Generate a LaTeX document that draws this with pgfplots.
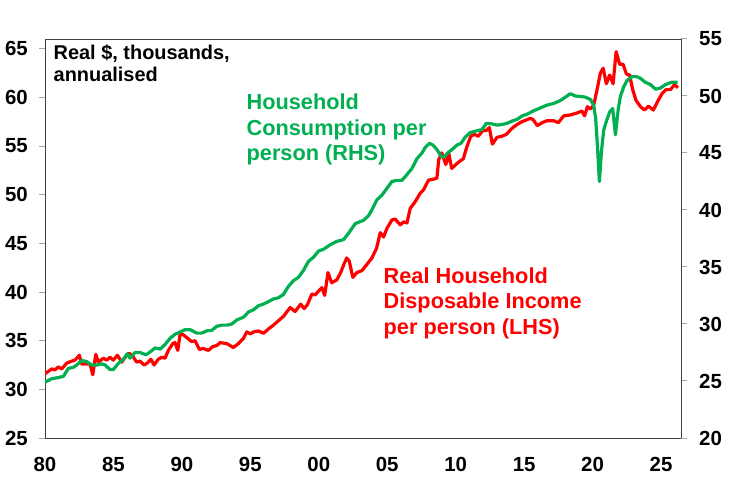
\documentclass[border=0pt]{standalone}
\usepackage{pgfplots}
\pgfplotsset{compat=1.18}
\usepackage{pgfplotstable}
\usepackage{fontspec}
\setmainfont{Liberation Sans}
\definecolor{cgreen}{RGB}{0,176,80}
\definecolor{cred}{RGB}{255,0,0}
\definecolor{axgray}{RGB}{64,64,64}
\definecolor{tickgray}{RGB}{166,166,166}

\pgfplotstableread{
x y
1980.00 31.6
1980.49 32.1
1980.73 32.0
1980.97 32.3
1981.22 32.1
1981.59 32.7
1981.95 32.9
1982.19 33.0
1982.51 33.5
1982.68 32.6
1983.05 32.6
1983.29 32.6
1983.49 31.5
1983.71 33.6
1983.90 32.8
1984.26 33.2
1984.51 33.0
1984.75 33.3
1984.99 33.0
1985.29 33.5
1985.61 32.8
1985.85 33.3
1986.16 33.7
1986.41 33.4
1986.70 32.8
1986.94 32.9
1987.24 32.5
1987.48 32.7
1987.73 33.1
1987.97 32.5
1988.28 33.1
1988.53 33.3
1988.77 33.2
1989.01 34.0
1989.33 34.7
1989.50 34.8
1989.70 34.0
1989.87 35.7
1990.11 35.6
1990.36 35.3
1990.72 34.9
1990.96 35.0
1991.28 34.1
1991.57 34.2
1991.94 34.0
1992.26 34.4
1992.55 34.5
1992.79 34.8
1993.28 34.7
1993.76 34.3
1994.13 34.7
1994.50 35.25
1994.74 35.9
1994.99 35.7
1995.23 35.9
1995.59 36.0
1995.96 35.76
1996.32 36.2
1996.69 36.6
1997.05 37.05
1997.42 37.5
1997.91 38.4
1998.27 38.0
1998.68 38.75
1998.93 38.3
1999.17 38.7
1999.50 39.8
1999.74 39.7
1999.98 40.1
2000.23 40.45
2000.43 39.65
2000.67 42.0
2000.94 40.95
2001.32 41.25
2001.60 42.0
2001.82 42.8
2002.04 43.5
2002.22 43.2
2002.49 41.5
2002.78 42.0
2003.15 42.2
2003.52 42.85
2003.88 43.5
2004.22 44.5
2004.49 46.1
2004.73 45.65
2004.98 46.55
2005.34 47.4
2005.58 47.5
2005.95 46.9
2006.19 47.2
2006.44 47.1
2006.68 48.6
2007.05 49.3
2007.41 50.15
2007.65 50.5
2008.02 51.5
2008.38 51.6
2008.63 51.7
2008.76 53.6
2008.98 54.3
2009.28 53.1
2009.50 54.2
2009.71 52.7
2010.01 53.1
2010.26 53.4
2010.56 53.7
2010.81 54.9
2011.10 56.0
2011.36 56.2
2011.65 56.0
2011.98 56.6
2012.24 56.6
2012.46 56.9
2012.68 55.2
2013.02 55.9
2013.37 56.0
2013.70 56.2
2014.10 56.8
2014.47 57.2
2014.83 57.5
2015.20 57.7
2015.45 57.85
2015.67 57.7
2015.96 57.1
2016.31 57.4
2016.67 57.6
2017.16 57.6
2017.50 57.4
2017.89 58.1
2018.38 58.2
2018.87 58.4
2019.22 58.6
2019.42 58.1
2019.62 59.05
2019.84 58.8
2020.08 59.2
2020.33 60.8
2020.57 62.5
2020.77 63.0
2021.01 61.4
2021.25 62.3
2021.50 61.4
2021.72 64.7
2021.98 63.4
2022.23 63.4
2022.47 62.4
2022.71 62.3
2022.91 60.9
2023.17 59.7
2023.50 59.05
2023.79 58.7
2024.08 59.1
2024.44 58.7
2024.76 59.6
2025.08 60.4
2025.37 60.8
2025.69 60.8
2025.98 61.3
2026.24 61.0
}\income

\pgfplotstableread{
x y
1980.00 24.9
1980.49 25.2
1980.97 25.3
1981.34 25.4
1981.70 26.1
1982.07 26.2
1982.32 26.4
1982.68 26.8
1983.05 26.7
1983.41 26.4
1983.78 26.4
1984.14 26.5
1984.39 26.4
1984.75 26.0
1984.99 26.0
1985.36 26.55
1985.72 26.9
1986.02 27.4
1986.21 27.0
1986.58 27.5
1986.94 27.5
1987.38 27.3
1987.68 27.55
1988.04 27.9
1988.41 27.8
1988.77 28.2
1989.14 28.75
1989.50 29.1
1989.87 29.3
1990.23 29.5
1990.60 29.5
1991.09 29.2
1991.45 29.2
1991.82 29.4
1992.19 29.45
1992.55 29.8
1992.92 29.9
1993.28 29.9
1993.65 30.0
1994.01 30.35
1994.50 30.6
1994.86 31.05
1995.23 31.25
1995.59 31.6
1995.96 31.75
1996.32 31.96
1996.69 32.2
1997.05 32.3
1997.42 32.6
1997.78 33.3
1998.15 33.8
1998.52 34.1
1998.88 34.7
1999.25 35.5
1999.61 35.85
1999.98 36.4
2000.34 36.55
2000.83 36.95
2001.32 37.25
2001.81 37.4
2002.17 37.95
2002.66 38.8
2003.27 39.1
2003.63 39.5
2003.83 39.9
2004.25 40.9
2004.61 41.3
2004.98 41.9
2005.34 42.5
2005.71 42.6
2006.07 42.6
2006.44 43.1
2006.81 43.65
2007.17 44.5
2007.54 45.0
2007.78 45.5
2008.09 45.85
2008.34 45.7
2008.63 45.3
2008.95 44.7
2009.17 44.65
2009.41 45.0
2009.73 45.3
2010.10 45.7
2010.39 45.85
2010.70 46.4
2011.07 46.8
2011.56 46.95
2011.92 47.05
2012.24 47.6
2012.65 47.55
2013.02 47.45
2013.38 47.5
2013.75 47.6
2014.12 47.8
2014.48 47.95
2014.85 48.25
2015.21 48.4
2015.69 48.7
2016.18 48.95
2016.67 49.2
2017.16 49.35
2017.65 49.6
2018.01 49.9
2018.38 50.2
2018.74 50.0
2019.11 49.96
2019.47 49.9
2019.84 49.7
2020.08 49.2
2020.23 48.0
2020.37 45.3
2020.50 42.5
2020.64 45.0
2020.81 47.0
2021.01 47.8
2021.25 48.6
2021.47 48.9
2021.67 46.6
2021.87 48.8
2022.03 49.95
2022.27 50.8
2022.52 51.35
2022.89 51.7
2023.20 51.7
2023.50 51.55
2023.86 51.2
2024.23 51.0
2024.60 50.6
2024.96 50.7
2025.32 51.0
2025.76 51.2
2026.22 51.2
}\consumption

\begin{document}
\begin{tikzpicture}
\useasboundingbox (0,0) rectangle (732bp,477bp);
\pgfplotsset{
  every axis/.append style={
    at={(45bp,39bp)}, anchor=south west,
    width=636bp, height=399bp, scale only axis,
    xmin=1980, xmax=2026.46,
    /pgf/number format/assume math mode=true,
    tick label style={font=\fontsize{20.5}{24}\selectfont\bfseries},
    axis line style={draw=axgray, line width=1bp},
    major tick length=6bp,
    tick align=outside,
    ytick style={draw=tickgray, line width=1bp},
    xtick style={draw=none},
  }
}
\begin{axis}[
  ymin=25, ymax=66.0,
  ytick={25,30,...,65},
  ytick pos=left,
  xtick={1980,1985,...,2025},
  xticklabels={80,85,90,95,00,05,10,15,20,25},
  xtick pos=bottom,
  xticklabel style={inner sep=0pt, anchor=north, yshift=-13bp},
  yticklabel style={inner sep=0pt, anchor=east, xshift=-11bp},
]
\addplot[cred, line width=3.2bp, line join=round, no markers] table[x=x,y=y] {\income};
\end{axis}
\begin{axis}[
  ymin=20, ymax=55,
  ytick={20,25,...,55},
  axis y line*=right,
  axis x line=none,
  yticklabel style={inner sep=0pt, anchor=west, xshift=12bp},
]
\addplot[cgreen, line width=3.2bp, line join=round, no markers] table[x=x,y=y] {\consumption};
\end{axis}
\begin{scope}[every node/.style={inner sep=0pt, anchor=base west}]
\node[font=\fontsize{20}{22}\selectfont\bfseries] at (53.5bp,417.7bp) {Real \$, thousands,};
\node[font=\fontsize{20}{22}\selectfont\bfseries] at (53.5bp,395.3bp) {annualised};
\node[text=cgreen, font=\fontsize{21.8}{25}\selectfont\bfseries] at (246.5bp,367bp) {Household};
\node[text=cgreen, font=\fontsize{21.8}{25}\selectfont\bfseries] at (246.5bp,341.5bp) {Consumption per};
\node[text=cgreen, font=\fontsize{21.8}{25}\selectfont\bfseries] at (246.5bp,316bp) {person (RHS)};
\node[text=cred, font=\fontsize{21.8}{25}\selectfont\bfseries] at (383.5bp,193.7bp) {Real Household};
\node[text=cred, font=\fontsize{21.8}{25}\selectfont\bfseries] at (383.5bp,168.2bp) {Disposable Income};
\node[text=cred, font=\fontsize{21.8}{25}\selectfont\bfseries] at (383.5bp,142.7bp) {per person (LHS)};
\end{scope}
\end{tikzpicture}
\end{document}
